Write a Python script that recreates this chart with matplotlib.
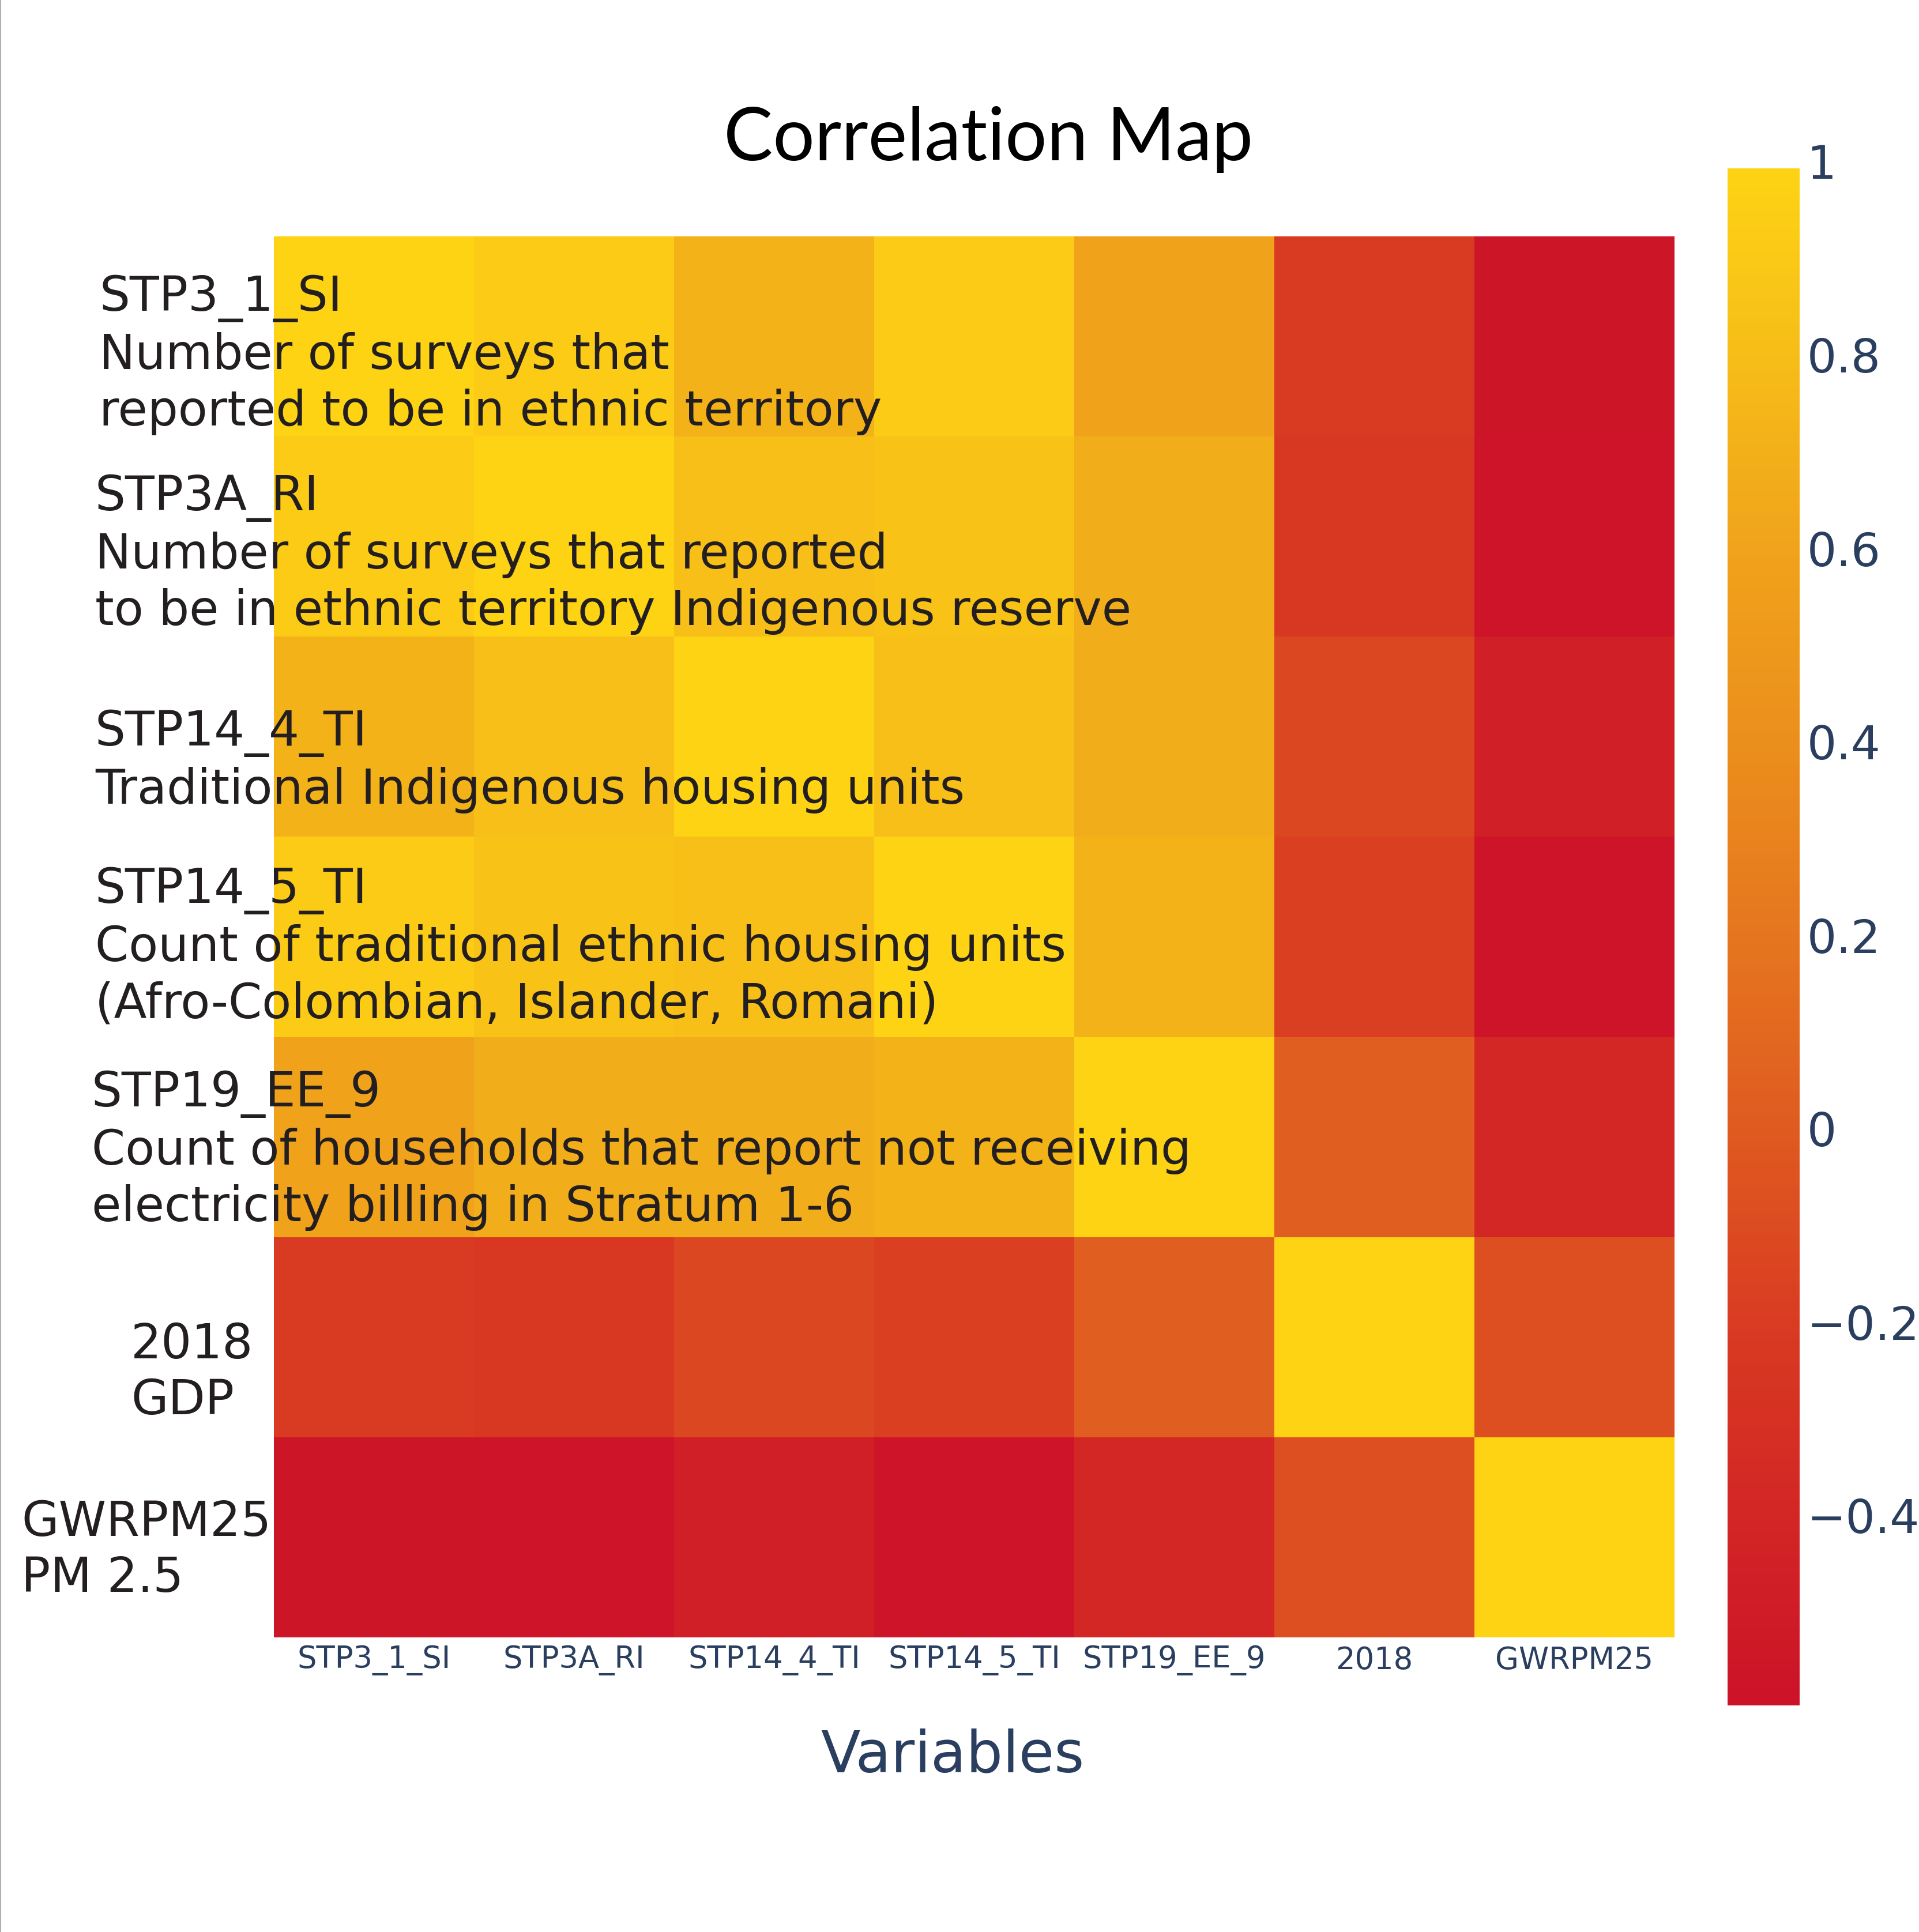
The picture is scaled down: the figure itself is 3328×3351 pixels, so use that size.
import numpy as np
import matplotlib
matplotlib.use('Agg')
import matplotlib.pyplot as plt
from matplotlib.colors import LinearSegmentedColormap
from matplotlib.transforms import ScaledTranslation
from matplotlib.lines import Line2D

variables = ['STP3_1_SI', 'STP3A_RI', 'STP14_4_TI', 'STP14_5_TI', 'STP19_EE_9', '2018', 'GWRPM25']

row_1 = [1.00, 0.93, 0.72, 0.93, 0.60, -0.20, -0.56]
row_2 = [0.93, 1.00, 0.82, 0.85, 0.68, -0.22, -0.57]
row_3 = [0.72, 0.82, 1.00, 0.82, 0.68, -0.12, -0.46]
row_4 = [0.93, 0.85, 0.82, 1.00, 0.72, -0.17, -0.57]
row_5 = [0.60, 0.68, 0.68, 0.72, 1.00, 0.03, -0.38]
row_6 = [-0.20, -0.22, -0.12, -0.17, 0.03, 1.00, -0.07]
row_7 = [-0.56, -0.57, -0.46, -0.57, -0.38, -0.07, 1.00]

row_labels = [
    'STP3_1_SI\nNumber of surveys that\nreported to be in ethnic territory',
    'STP3A_RI\nNumber of surveys that reported\nto be in ethnic territory Indigenous reserve',
    'STP14_4_TI\nTraditional Indigenous housing units',
    'STP14_5_TI\nCount of traditional ethnic housing units\n(Afro-Colombian, Islander, Romani)',
    'STP19_EE_9\nCount of households that report not receiving\nelectricity billing in Stratum 1-6',
    '2018\nGDP',
    'GWRPM25\nPM 2.5',
]
# left edge and vertical centre of each label, in pixels
label_x = [172, 165, 165, 165, 159, 227, 37]
label_y = [616, 962, 1321, 1643, 1996, 2381, 2689]

cbar_ticks = [-0.4, -0.2, 0, 0.2, 0.4, 0.6, 0.8, 1]
cbar_labels = ['\u22120.4', '\u22120.2', '0', '0.2', '0.4', '0.6', '0.8', '1']

W, H = 3328, 3351
NAVY = '#2a3f5f'
DARK = '#231f20'

vmin, vmax = -0.589, 1.0
stops = [(-0.589, '#cc1228'), (-0.2, '#d93a22'), (0.0, '#df5a20'),
         (0.2, '#e5751f'), (0.4, '#eb8e1c'), (0.6, '#f0a21b'),
         (0.8, '#f6bc18'), (1.0, '#fdd314')]
cmap = LinearSegmentedColormap.from_list(
    'corr', [((v - vmin) / (vmax - vmin), c) for v, c in stops])

corr = np.array([row_1, row_2, row_3, row_4, row_5, row_6, row_7])


def box(x0, y0, x1, y1):
    return [x0 / W, 1 - y1 / H, (x1 - x0) / W, (y1 - y0) / H]


fig = plt.figure(figsize=(W / 100, H / 100), dpi=100, facecolor='white')
plt.rcParams['font.family'] = 'DejaVu Sans'

ax = fig.add_axes(box(475, 410, 2904, 2840))
mesh = ax.pcolormesh(np.arange(8), np.arange(8), corr, cmap=cmap, vmin=vmin, vmax=vmax)
ax.invert_yaxis()
ax.set_xticks(np.arange(7) + 0.5)
ax.set_xticklabels(variables, fontsize=38, color=NAVY)
ax.set_yticks([])
ax.tick_params(axis='x', length=0, pad=10)
for s in ax.spines.values():
    s.set_visible(False)

cax = fig.add_axes(box(2996, 292, 3121, 2958))
cb = fig.colorbar(mesh, cax=cax)
cb.outline.set_visible(False)
cb.set_ticks(cbar_ticks)
cb.set_ticklabels(cbar_labels)
cax.tick_params(length=0, pad=9, labelsize=58, labelcolor=NAVY)
shift = ScaledTranslation(0, 12 / 100, fig.dpi_scale_trans)
for t in cax.get_yticklabels():
    t.set_transform(t.get_transform() + shift)

for txt, x, y in zip(row_labels, label_x, label_y):
    fig.text(x / W, 1 - y / H, txt, fontsize=60, color=DARK, ha='left', va='center',
             linespacing=1.265, zorder=5)

fig.text(1714 / W, 1 - 242 / H, 'Correlation Map', fontsize=92, color='black',
         family='Lato', ha='center', va='center')
fig.text(1652 / W, 1 - 3046 / H, 'Variables', fontsize=72, color=NAVY, ha='center', va='center')

# thin grey edge at the left of the page
fig.add_artist(Line2D([1 / W, 1 / W], [0, 1], color='#b0b0b0', lw=1.5))

fig.savefig('out.png', dpi=100)
